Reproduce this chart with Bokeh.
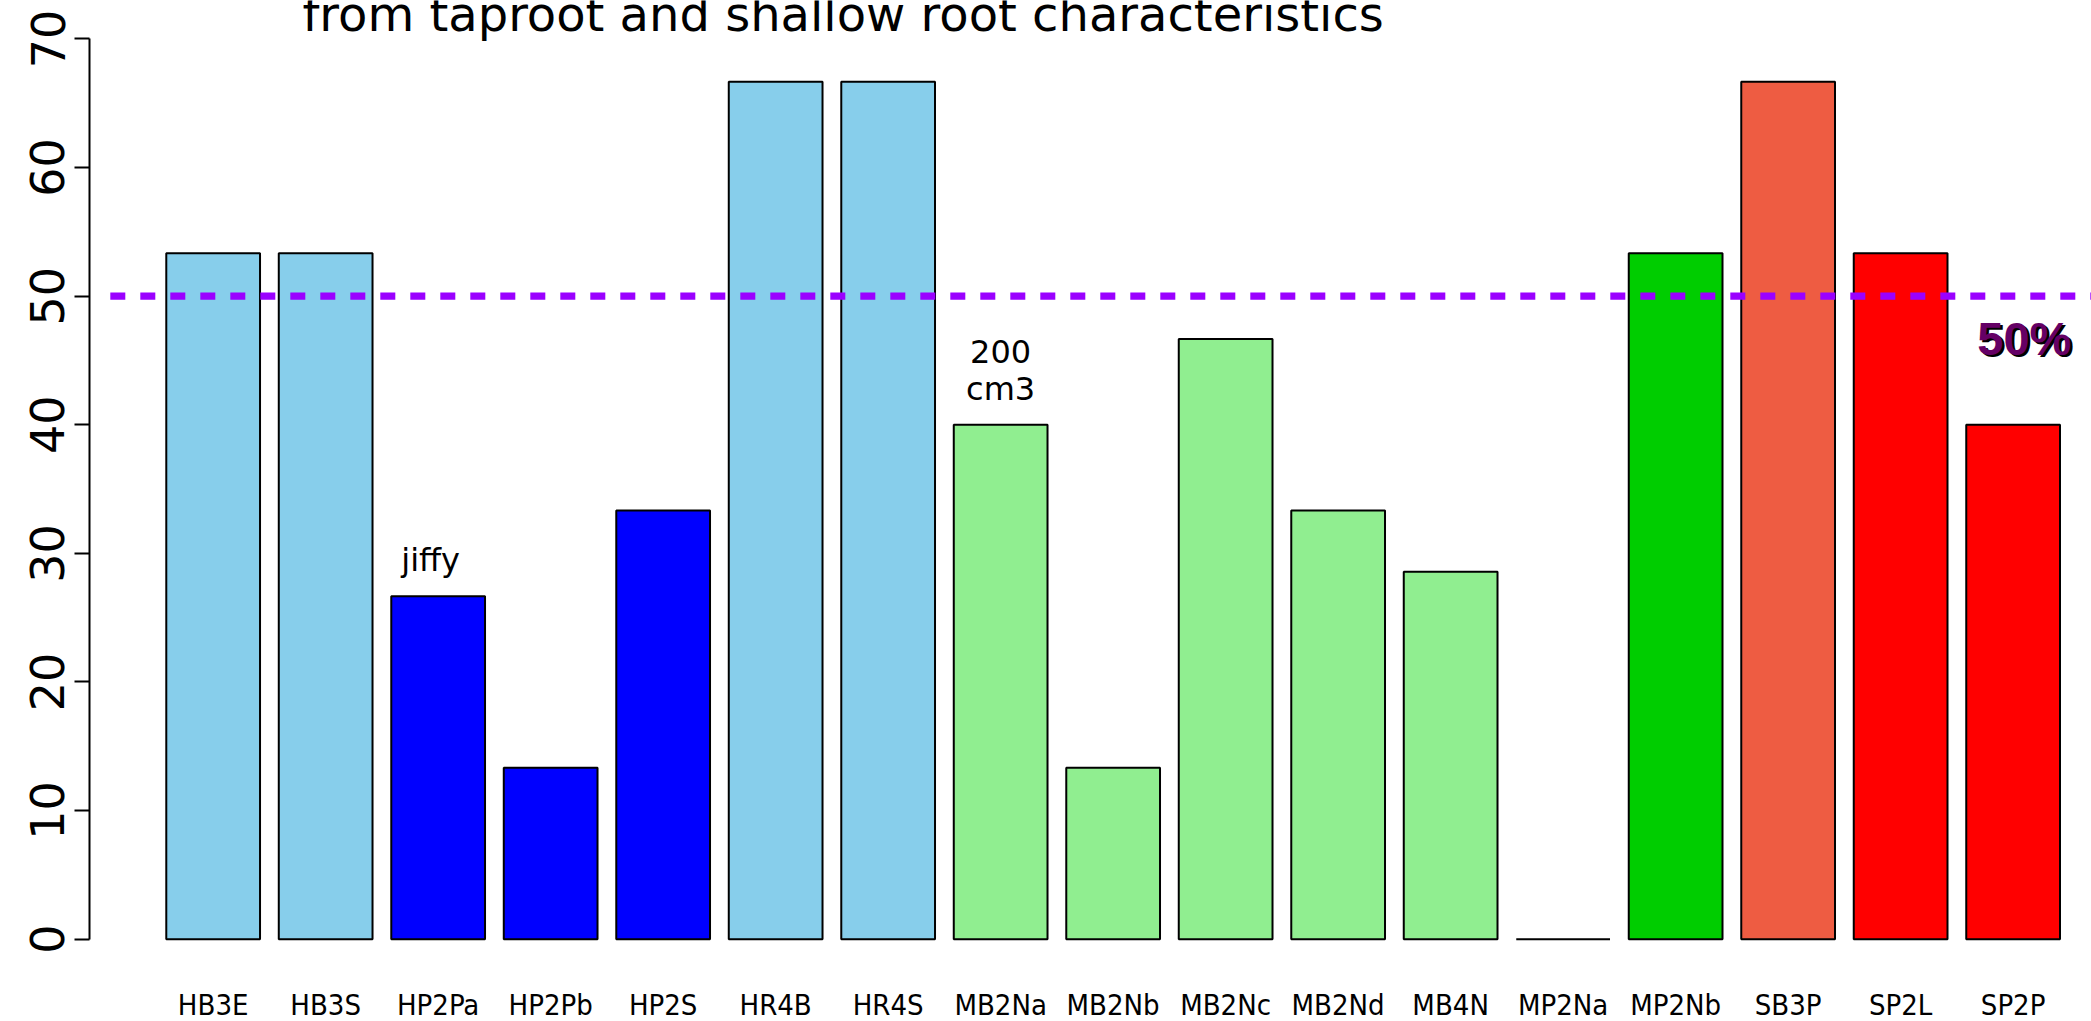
from bokeh.plotting import figure
from bokeh.models import ColumnDataSource, FixedTicker, Range1d
from bokeh.core.properties import value
from bokeh.embed import file_html
from bokeh.resources import INLINE

# ---- data ----
categories = ["HB3E", "HB3S", "HP2Pa", "HP2Pb", "HP2S", "HR4B", "HR4S", "MB2Na",
              "MB2Nb", "MB2Nc", "MB2Nd", "MB4N", "MP2Na", "MP2Nb", "SB3P", "SP2L", "SP2P"]
percent = [53.33, 53.33, 26.67, 13.33, 33.33, 66.67, 66.67, 40.0,
           13.33, 46.67, 33.33, 28.57, 0.0, 53.33, 66.67, 53.33, 40.0]
bar_colors = ["#87CEEB", "#87CEEB", "#0000FF", "#0000FF", "#0000FF", "#87CEEB", "#87CEEB", "#90EE90",
              "#90EE90", "#90EE90", "#90EE90", "#90EE90", "#90EE90", "#00CD00", "#EE5C42", "#FF0000", "#FF0000"]
y_ticks = [0, 10, 20, 30, 40, 50, 60, 70]
threshold = 50
threshold_label = "50%"
title_text = "from taproot and shallow root characteristics"
note_jiffy = "jiffy"
note_pot = ["200", "cm3"]

# bar centres as in an R barplot (width 1, space 0.2)
x_pos = [0.7 + 1.2 * i for i in range(len(categories))]

W, H = 2091, 1021
p = figure(width=W, height=H, output_backend="svg", toolbar_location=None,
           x_range=Range1d(-0.619, 20.736), y_range=Range1d(-6.40, 72.99),
           x_axis_location=None, min_border_left=89, min_border_right=0,
           min_border_top=0, min_border_bottom=0)
p.outline_line_color = None
p.grid.visible = False
p.background_fill_color = "white"
p.border_fill_color = "white"

src = ColumnDataSource(dict(x=x_pos, top=percent, color=bar_colors, name=categories))
p.vbar(x="x", top="top", bottom=0, width=1.0, fill_color="color",
       line_color="black", line_width=2, source=src)

# reference line
p.line(x=[-0.397, 20.8], y=[threshold, threshold], line_color="#9A00FF",
       line_width=7.3, line_dash="15 15", line_cap="butt")

# category labels
p.text(x="x", y=-5.14, text="name", source=src, text_align="center",
       text_baseline="alphabetic", text_font=value("DejaVu Sans Condensed"),
       text_font_size="29px", text_color="black")

# annotations
p.text(x=[3.02], y=[29.5], text=[note_jiffy], text_align="center",
       text_baseline="alphabetic", text_font=value("DejaVu Sans"),
       text_font_size="32px", text_color="black")
p.text(x=[9.1, 9.1], y=[45.73, 42.8], text=note_pot, text_align="center",
       text_baseline="alphabetic", text_font=value("DejaVu Sans"),
       text_font_size="32px", text_color="black")

# 50% label with shadow
p.text(x=[20.02], y=[46.71], text=[threshold_label], text_align="center",
       text_baseline="alphabetic", text_font=value("Liberation Sans"),
       text_font_style="bold", text_font_size="47px", text_color="black",
       x_offset=2.5, y_offset=2.5)
p.text(x=[20.02], y=[46.71], text=[threshold_label], text_align="center",
       text_baseline="alphabetic", text_font=value("Liberation Sans"),
       text_font_style="bold", text_font_size="47px", text_color="#650065")

# title (only the lower line is visible in the reference)
p.text(x=[7.42], y=[71.93], text=[title_text], text_align="center",
       text_baseline="alphabetic", text_font=value("DejaVu Sans"),
       text_font_size="48px", text_color="black")

# y axis
ax = p.yaxis[0]
ax.ticker = FixedTicker(ticks=y_ticks)
ax.bounds = (0, 70)
ax.major_label_orientation = "vertical"
ax.major_label_text_font = "DejaVu Sans"
ax.major_label_text_font_size = "46px"
ax.major_label_text_color = "black"
ax.major_label_standoff = 10
ax.major_tick_out = 15
ax.major_tick_in = 0
ax.minor_tick_line_color = None
ax.axis_line_width = 2
ax.major_tick_line_width = 2
ax.axis_line_color = "black"
ax.major_tick_line_color = "black"

open("out.html", "w").write(file_html(p, INLINE))
